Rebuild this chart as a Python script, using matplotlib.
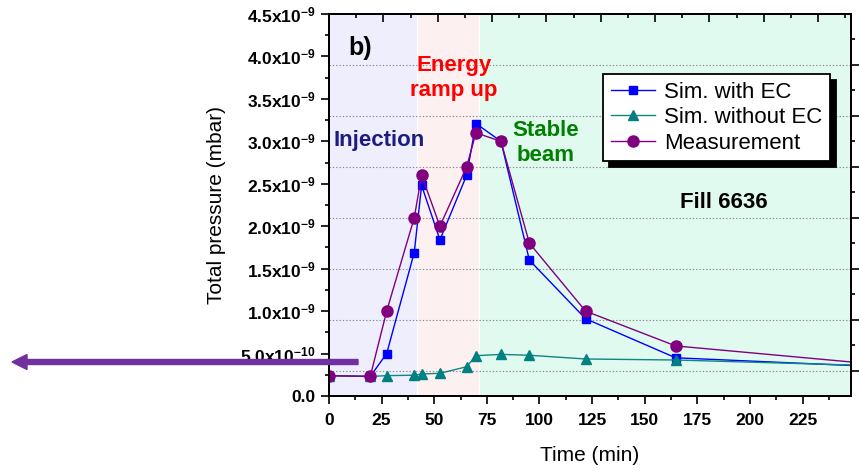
import matplotlib
matplotlib.use("Agg")
import matplotlib.pyplot as plt
from matplotlib.patches import FancyArrow
from matplotlib.transforms import IdentityTransform
from matplotlib.ticker import MultipleLocator, FixedLocator, FixedFormatter

plt.rcParams["font.family"] = ["Liberation Sans", "DejaVu Sans"]
plt.rcParams["mathtext.fontset"] = "custom"
plt.rcParams["mathtext.rm"] = "Liberation Sans:bold"
plt.rcParams["mathtext.bf"] = "Liberation Sans:bold"
plt.rcParams["mathtext.it"] = "Liberation Sans:bold"

# Fill 6636: total pressure (in units of 1e-9 mbar) versus time (min)
time_min = [0, 19.6, 27.4, 40.5, 44.0, 52.7, 65.4, 69.8, 81.7, 95.2, 121.9, 164.7, 255]
sim_with_ec = [0.24, 0.23, 0.50, 1.69, 2.48, 1.84, 2.60, 3.21, 3.00, 1.60, 0.91, 0.45, 0.352]
sim_without_ec = [0.24, 0.23, 0.24, 0.245, 0.26, 0.267, 0.345, 0.475, 0.49, 0.48, 0.436, 0.424, 0.36]
measurement = [0.24, 0.23, 1.00, 2.10, 2.60, 2.00, 2.70, 3.10, 3.00, 1.80, 1.00, 0.59, 0.385]

# machine phases (start, end in min)
phase_injection = (0, 42)
phase_ramp = (42, 71.5)
phase_stable = (71.5, 248)

y_tick_values = [0, 0.5, 1.0, 1.5, 2.0, 2.5, 3.0, 3.5, 4.0, 4.5]
y_tick_labels = ["0.0", r"5.0x10$^{-10}$", r"1.0x10$^{-9}$", r"1.5x10$^{-9}$",
                 r"2.0x10$^{-9}$", r"2.5x10$^{-9}$", r"3.0x10$^{-9}$",
                 r"3.5x10$^{-9}$", r"4.0x10$^{-9}$", r"4.5x10$^{-9}$"]
x_tick_values = [0, 25, 50, 75, 100, 125, 150, 175, 200, 225]
right_major_ticks = [0.3, 0.9, 1.5, 2.1, 2.7, 3.3, 3.9]
right_minor_ticks = [0.6, 1.2, 1.8, 2.4, 3.0, 3.6, 4.2]

fig = plt.figure(figsize=(8.59, 4.76), dpi=100)
ax = fig.add_axes([329 / 859, 80 / 476, 522 / 859, 382 / 476])
ax.set_xlim(0, 248)
ax.set_ylim(0, 4.5)

ax.axvspan(*phase_injection, facecolor="#EEEEFC", edgecolor="white", lw=0.8, zorder=0)
ax.axvspan(*phase_ramp, facecolor="#FCF0F0", edgecolor="white", lw=0.8, zorder=0)
ax.axvspan(*phase_stable, facecolor="#E0FAEF", edgecolor="white", lw=0.8, zorder=0)

for yv in right_major_ticks:
    ax.axhline(yv, color="#8a8a8a", lw=0.8, ls=(0, (1.2, 1.8)), zorder=1)

ax.plot(time_min, sim_with_ec, color="#0000FF", lw=1.0, marker="s", ms=6,
        mec="#0000FF", mfc="#0000FF", label="Sim. with EC", zorder=3)
ax.plot(time_min, sim_without_ec, color="#108585", lw=1.0, marker="^", ms=7.5,
        mec="#008080", mfc="#008080", label="Sim. without EC", zorder=4)
ax.plot(time_min, measurement, color="#800080", lw=1.0, marker="o", ms=8,
        mec="#800080", mfc="#800080", label="Measurement", zorder=5)

# phase annotations
ax.text(23.8, 3.015, "Injection", color="#1C1C80", fontsize=16, fontweight="bold",
        ha="center", va="center", zorder=6)
ax.text(59.4, 3.75, "Energy\nramp up", color="#FF0000", fontsize=16, fontweight="bold",
        ha="center", va="center", linespacing=1.25, zorder=6)
ax.text(103, 2.985, "Stable\nbeam", color="#008000", fontsize=16, fontweight="bold",
        ha="center", va="center", linespacing=1.25, zorder=6)
ax.text(187.6, 2.277, "Fill 6636", color="black", fontsize=16, fontweight="bold",
        ha="center", va="center", zorder=6)
ax.text(14.7, 4.1, "b)", color="black", fontsize=18, fontweight="bold",
        ha="center", va="center", zorder=6)

# axis styling
for sp in ax.spines.values():
    sp.set_linewidth(1.3)
ax.xaxis.set_major_locator(FixedLocator(x_tick_values))
ax.xaxis.set_minor_locator(MultipleLocator(12.5))
ax.yaxis.set_major_locator(FixedLocator(y_tick_values))
ax.yaxis.set_major_formatter(FixedFormatter(y_tick_labels))
ax.yaxis.set_minor_locator(MultipleLocator(0.25))
ax.tick_params(axis="both", which="both", direction="out", top=False, right=False, width=1.2)
ax.tick_params(axis="both", which="major", length=6)
ax.tick_params(axis="both", which="minor", length=3)
ax.tick_params(axis="x", which="major", pad=6, labelsize=12.5)
ax.tick_params(axis="y", which="major", pad=3.5, labelsize=12.5)
for lab in ax.get_xticklabels() + ax.get_yticklabels():
    lab.set_fontweight("bold")

ax.set_xlabel("Time (min)", fontsize=15, labelpad=13)
ax.set_ylabel("Total pressure (mbar)", fontsize=15, labelpad=10)

# right axis: unlabelled ticks
axr = ax.twinx()
axr.set_ylim(0, 4.5)
axr.yaxis.set_major_locator(FixedLocator(right_major_ticks))
axr.yaxis.set_minor_locator(FixedLocator(right_minor_ticks))
axr.tick_params(axis="y", which="both", direction="out", labelright=False, width=1.2)
axr.tick_params(axis="y", which="major", length=5.5)
axr.tick_params(axis="y", which="minor", length=3)
for sp in axr.spines.values():
    sp.set_linewidth(1.3)

# top axis: unlabelled inward ticks
axt = ax.twiny()
axt.set_xlim(0, 19.21)
axt.xaxis.set_major_locator(MultipleLocator(2))
axt.xaxis.set_minor_locator(MultipleLocator(1))
axt.tick_params(axis="x", which="both", direction="in", labeltop=False, width=1.2)
axt.tick_params(axis="x", which="major", length=5.5)
axt.tick_params(axis="x", which="minor", length=3)
for sp in axt.spines.values():
    sp.set_linewidth(1.3)

leg = ax.legend(loc="upper left", bbox_to_anchor=(0.525, 0.843), borderaxespad=0,
                fontsize=16, frameon=True, fancybox=False, handlelength=2.0,
                handletextpad=0.4, labelspacing=0.2, borderpad=0.35,
                shadow={"ox": 4, "oy": -4, "color": "black", "alpha": 1})
leg.get_frame().set_edgecolor("black")
leg.get_frame().set_linewidth(1.3)
leg.get_frame().set_alpha(1)
leg.set_zorder(10)

# long purple arrow pointing left
arrow = FancyArrow(358, 476 - 362, -346, 0, width=5, head_width=15, head_length=15,
                   length_includes_head=True, color="#7030A0", transform=IdentityTransform())
fig.add_artist(arrow)
arrow.set_zorder(20)

fig.savefig("out.png", dpi=100)
